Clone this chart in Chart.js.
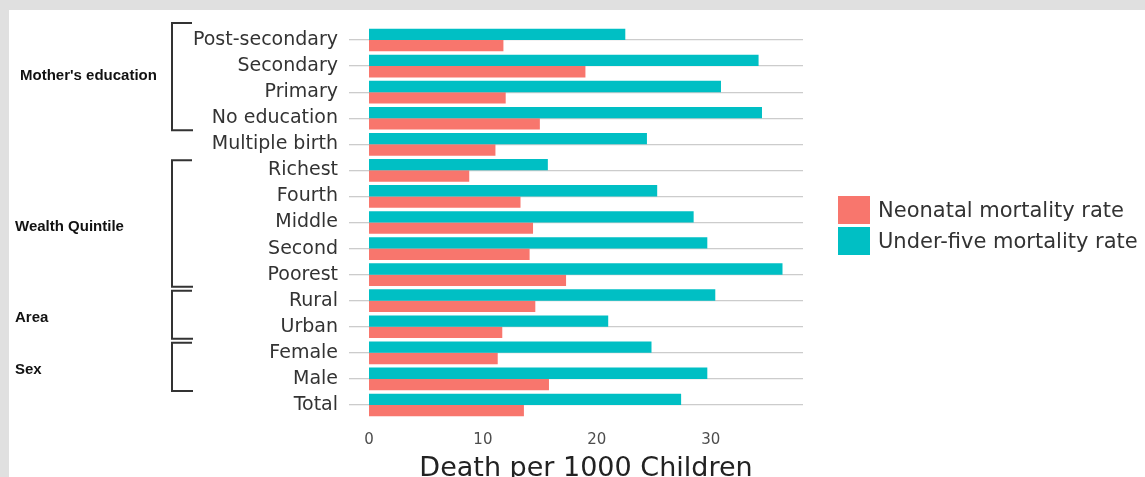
<!DOCTYPE html>
<html>
<head>
<meta charset="utf-8">
<script src="https://cdn.jsdelivr.net/npm/chart.js@4"></script>
<style>
  body { margin: 0; background: #e0e0e0; width: 1145px; height: 477px; overflow: hidden; }
  #panel { position: absolute; left: 9px; top: 10px; width: 1136px; height: 467px; background: #fff; }
</style>
</head>
<body>
<div id="panel"><canvas id="chart" width="1136" height="467"></canvas></div>
<script>
// categories, top to bottom
const categories = ["Post-secondary", "Secondary", "Primary", "No education", "Multiple birth",
  "Richest", "Fourth", "Middle", "Second", "Poorest", "Rural", "Urban", "Female", "Male", "Total"];

// deaths per 1000 children
const underFive = [22.5, 34.2, 30.9, 34.5, 24.4, 15.7, 25.3, 28.5, 29.7, 36.3, 30.4, 21.0, 24.8, 29.7, 27.4];
const neonatal  = [11.8, 19.0, 12.0, 15.0, 11.1, 8.8, 13.3, 14.4, 14.1, 17.3, 14.6, 11.7, 11.3, 15.8, 13.6];

const xTicks = [0, 10, 20, 30];

// bracketed groups (index of first and last category)
const groups = [
  { label: "Mother's education", from: 0, to: 3 },
  { label: "Wealth Quintile", from: 5, to: 9 },
  { label: "Area", from: 10, to: 11 },
  { label: "Sex", from: 12, to: 13 }
];

const font = "'DejaVu Sans', sans-serif";

// group brackets on the left + legend on the right
const extras = {
  id: "extras",
  afterDraw(chart) {
    const ctx = chart.ctx;
    const y = chart.scales.y;
    ctx.save();

    ctx.strokeStyle = "#333";
    ctx.lineWidth = 2;
    ctx.fillStyle = "#111";
    ctx.font = "bold 15px 'Liberation Sans', Arial, sans-serif";
    ctx.textBaseline = "middle";
    groups.forEach(g => {
      const first = g.from === 0;
      const top = y.getPixelForValue(g.from) - (first ? 17 : 10);
      const bottom = y.getPixelForValue(g.to) + 12;
      ctx.beginPath();
      ctx.moveTo(183, top);
      ctx.lineTo(163, top);
      ctx.lineTo(163, bottom);
      ctx.lineTo(184, bottom);
      ctx.stroke();
      ctx.fillText(g.label, first ? 11 : 6, (top + bottom) / 2 + (first ? -1 : 3));
    });

    // legend: neonatal first
    const items = chart.data.datasets.slice().reverse();
    ctx.font = "21px " + font;
    items.forEach((ds, i) => {
      const by = 186 + i * 31;
      ctx.fillStyle = ds.backgroundColor;
      ctx.fillRect(829, by, 32, 28);
      ctx.fillStyle = "#333";
      ctx.fillText(ds.label, 869, by + 16);
    });
    ctx.restore();
  }
};

new Chart(document.getElementById("chart"), {
  type: "bar",
  data: {
    labels: categories,
    datasets: [
      { label: "Under-five mortality rate", data: underFive, backgroundColor: "#00bfc4",
        categoryPercentage: 0.87, barPercentage: 1.0 },
      { label: "Neonatal mortality rate", data: neonatal, backgroundColor: "#f8766d",
        categoryPercentage: 0.87, barPercentage: 1.0 }
    ]
  },
  options: {
    indexAxis: "y",
    responsive: false,
    animation: false,
    layout: { padding: { top: 17, right: 342, bottom: 0, left: 0 } },
    plugins: { legend: { display: false }, tooltip: { enabled: false } },
    scales: {
      x: {
        min: 0,
        max: 38.1,
        afterBuildTicks: s => { s.ticks = xTicks.map(v => ({ value: v })); },
        afterFit: s => { s.height = 59; },
        grid: { display: false },
        border: { display: false },
        ticks: { padding: 5, color: "#4d4d4d", font: { family: font, size: 15 } },
        title: {
          display: true,
          text: "Death per 1000 Children",
          color: "#222",
          font: { family: font, size: 27, lineHeight: 0.6 },
          padding: { top: 0, bottom: 0 }
        }
      },
      y: {
        afterFit: s => { s.width = 360; s.paddingTop = 0; s.paddingBottom = 0; },
        grid: { offset: false, color: "#cccccc", lineWidth: 1.3, tickLength: 20, tickColor: "#cccccc" },
        border: { display: false },
        ticks: { padding: 11, color: "#333", font: { family: font, size: 19 } }
      }
    }
  },
  plugins: [extras]
});
</script>
</body>
</html>
